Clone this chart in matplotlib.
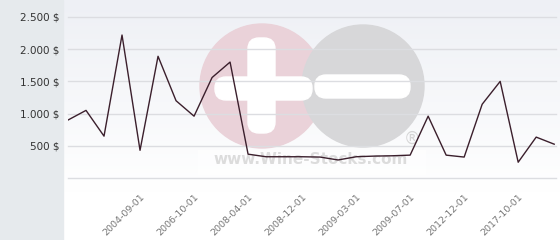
import matplotlib
matplotlib.use("Agg")
import matplotlib.pyplot as plt
import numpy as np
from matplotlib.patches import Circle, FancyBboxPatch, Rectangle

# price per point, left to right
prices = [900, 1050, 650, 2220, 430, 1890, 1200, 960, 1560, 1800,
          370, 330, 330, 330, 325, 280, 330, 340, 345, 355,
          960, 355, 325, 1145, 1500, 245, 635, 525]

# dates shown on the x axis (every third point, starting at the fifth)
tick_idx = [4, 7, 10, 13, 16, 19, 22, 25]
tick_labels = ["2004-09-01", "2006-10-01", "2008-04-01", "2008-12-01",
               "2009-03-01", "2009-07-01", "2012-12-01", "2017-10-01"]

y_ticks = [0, 500, 1000, 1500, 2000, 2500]
y_labels = ["", "500 $", "1.000 $", "1.500 $", "2.000 $", "2.500 $"]

W, H = 560, 240
fig = plt.figure(figsize=(W / 100, H / 100), dpi=100)
fig.patch.set_facecolor("white")

# left grey panel
fig.patches.append(Rectangle((0, 0), 63 / W, 1, transform=fig.transFigure,
                             color="#e6eaed", zorder=0))

# plot background with gradient + watermark, in pixel coords
bg = fig.add_axes([63 / W, 0, (W - 63) / W, 1], zorder=0)
bg.set_xlim(63, W)
bg.set_ylim(H, 0)
bg.axis("off")
grad = np.linspace(0, 1, 256).reshape(-1, 1)
top = np.array([238, 240, 245]) / 255
bot = np.array([255, 255, 255]) / 255
img = top + (bot - top) * np.clip(grad * 1.25, 0, 1)[..., None]
img = np.repeat(img, 2, axis=1)
bg.imshow(img, extent=[63, W, H, 0], aspect="auto", zorder=0)

bg.add_patch(Rectangle((198, 150), 227, 24, color="white", alpha=0.6, zorder=1))
bg.add_patch(Circle((262, 86), 62, color="#ead2d9", zorder=2))
bg.add_patch(Circle((363, 86), 61, color="#d7d7d9", zorder=3))
for x0, y0, w, h in [(248, 38, 27, 95), (215, 77, 97, 23), (315, 75, 95, 23)]:
    bg.add_patch(FancyBboxPatch((x0 + 11, y0 + 11), w - 22, h - 22,
                                boxstyle="round,pad=11", color="white",
                                zorder=4))
bg.text(311, 160, "www.Wine-Stocks.com", ha="center", va="center",
        fontsize=11, fontweight="bold", color="#dcdcdc", zorder=5)
bg.text(412, 139, "®", ha="center", va="center", fontsize=12,
        color="#d6d6d6", zorder=5)

# data axes
ax = fig.add_axes([68 / W, (H - 178) / H, (556 - 68) / W, (178 - 17) / H],
                  zorder=2)
ax.patch.set_alpha(0)
x = np.arange(len(prices))
ax.plot(x, prices, color="#3b1f2c", lw=1.0, zorder=3)
ax.set_xlim(0, 27.1)
ax.set_ylim(0, 2500)
ax.set_yticks(y_ticks)
ax.set_yticklabels(y_labels, fontsize=7.5, color="#333333")
ax.yaxis.grid(True, color="#dcdde1", lw=1)
for gl in ax.get_ygridlines():
    gl.set_clip_on(False)
ax.set_xticks(tick_idx)
ax.set_xticklabels(tick_labels, rotation=45, ha="right",
                   rotation_mode="anchor", fontsize=6.8, color="#777777")
ax.tick_params(axis="both", length=0)
ax.tick_params(axis="y", pad=6)
ax.tick_params(axis="x", pad=10)
for s in ax.spines.values():
    s.set_visible(False)

fig.savefig("out.png", dpi=100)
